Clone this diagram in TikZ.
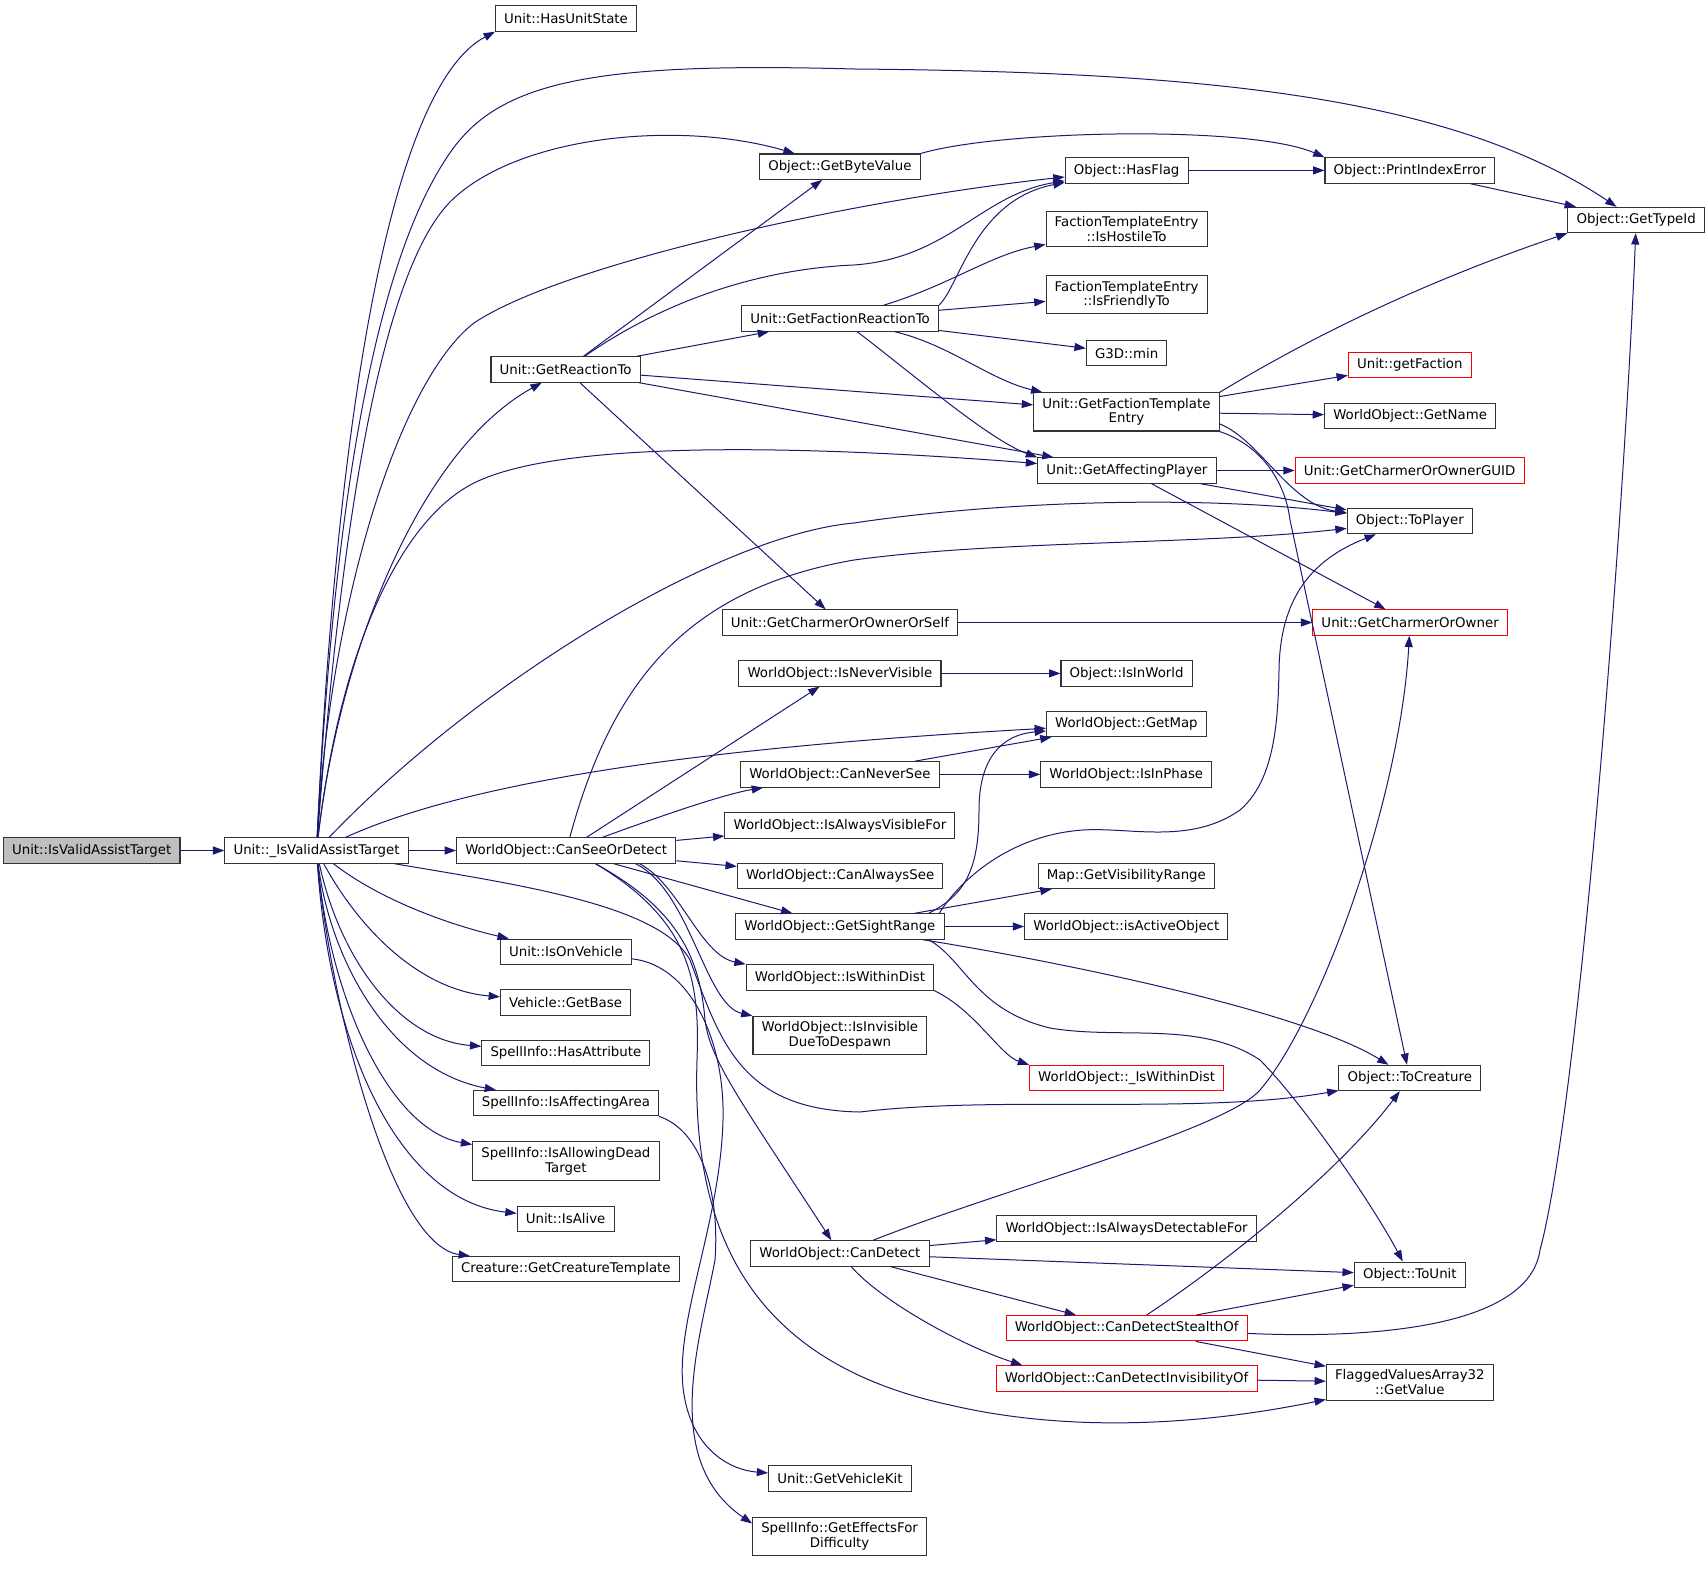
\documentclass[tikz,border=0pt]{standalone}
\usepackage{fontspec}
\setmainfont{DejaVu Sans}
\usepackage{xcolor}
\usepackage{tikz}
\usetikzlibrary{arrows.meta}
\definecolor{edgeblue}{HTML}{191970}
\definecolor{rootgray}{HTML}{BFBFBF}
\tikzset{
  fn/.style={draw=black!80, fill=white, line width=0.8pt, align=center, inner xsep=6.5pt, inner ysep=4pt, minimum height=19pt, font=\fontsize{10}{11}\selectfont},
  fnred/.style={fn, draw=red},
  fnroot/.style={fn, fill=rootgray},
  call/.style={draw=edgeblue, line width=0.75pt, -{Triangle[length=8.5pt,width=6pt]}}
}
\begin{document}
\begin{tikzpicture}[x=0.75pt, y=-0.75pt]
    \useasboundingbox (0,0) rectangle (1708,1569);

    % functions, column by column
    \node[fnroot] (assist) at (91.7,850.5) {Unit::IsValidAssistTarget};
    \node[fn] (vassist) at (316.5,850.5) {Unit::\_IsValidAssistTarget};

    \node[fn] (hasstate) at (566,18.5) {Unit::HasUnitState};
    \node[fn] (getreaction) at (565.6,369.5) {Unit::GetReactionTo};
    \node[fn] (seeordetect) at (566.2,850.5) {WorldObject::CanSeeOrDetect};
    \node[fn] (isonveh) at (565.9,951.8) {Unit::IsOnVehicle};
    \node[fn] (getbase) at (565.6,1002.5) {Vehicle::GetBase};
    \node[fn] (hasattr) at (565.9,1052.8) {SpellInfo::HasAttribute};
    \node[fn] (affarea) at (565.9,1103.2) {SpellInfo::IsAffectingArea};
    \node[fn] (allowdead) at (565.9,1161) {SpellInfo::IsAllowingDead\\Target};
    \node[fn] (isalive) at (565.6,1219) {Unit::IsAlive};
    \node[fn] (crtemplate) at (565.9,1269.2) {Creature::GetCreatureTemplate};

    \node[fn] (getbyte) at (839.9,166.7) {Object::GetByteValue};
    \node[fn] (facreaction) at (840.1,318.5) {Unit::GetFactionReactionTo};
    \node[fn] (charmself) at (839.9,622.5) {Unit::GetCharmerOrOwnerOrSelf};
    \node[fn] (nevervis) at (839.9,673.4) {WorldObject::IsNeverVisible};
    \node[fn] (neversee) at (839.9,774.4) {WorldObject::CanNeverSee};
    \node[fn] (alwaysvis) at (839.9,825.4) {WorldObject::IsAlwaysVisibleFor};
    \node[fn] (alwayssee) at (840.1,876) {WorldObject::CanAlwaysSee};
    \node[fn] (sightrange) at (839.9,926.5) {WorldObject::GetSightRange};
    \node[fn] (withindist) at (839.9,977.4) {WorldObject::IsWithinDist};
    \node[fn] (despawn) at (839.9,1035.5) {WorldObject::IsInvisible\\DueToDespawn};
    \node[fn] (candetect) at (839.9,1253.4) {WorldObject::CanDetect};
    \node[fn] (vehkit) at (839.9,1478.5) {Unit::GetVehicleKit};
    \node[fn] (effects) at (839.6,1536.5) {SpellInfo::GetEffectsFor\\Difficulty};

    \node[fn] (hasflag) at (1126.6,170.4) {Object::HasFlag};
    \node[fn] (hostile) at (1126.6,229) {FactionTemplateEntry\\::IsHostileTo};
    \node[fn] (friendly) at (1126.6,294.7) {FactionTemplateEntry\\::IsFriendlyTo};
    \node[fn] (gmin) at (1126.6,353.2) {G3D::min};
    \node[fn] (factemplate) at (1126.4,411.9) {Unit::GetFactionTemplate\\Entry};
    \node[fn] (affplayer) at (1126.9,470.5) {Unit::GetAffectingPlayer};
    \node[fn] (inworld) at (1126.6,673.4) {Object::IsInWorld};
    \node[fn] (getmap) at (1126.4,723.9) {WorldObject::GetMap};
    \node[fn] (inphase) at (1126.3,774.4) {WorldObject::IsInPhase};
    \node[fn] (visrange) at (1126.3,875.9) {Map::GetVisibilityRange};
    \node[fn] (activeobj) at (1126.3,926.5) {WorldObject::isActiveObject};
    \node[fnred] (withindistB) at (1126.6,1078) {WorldObject::\_IsWithinDist};
    \node[fn] (detectable) at (1126.6,1228.4) {WorldObject::IsAlwaysDetectableFor};
    \node[fnred] (stealth) at (1126.6,1328.2) {WorldObject::CanDetectStealthOf};
    \node[fnred] (invis) at (1126.6,1378.4) {WorldObject::CanDetectInvisibilityOf};

    \node[fn] (printerr) at (1409.8,170.4) {Object::PrintIndexError};
    \node[fnred] (getfaction) at (1409.8,365.2) {Unit::getFaction};
    \node[fn] (getname) at (1410.1,415.9) {WorldObject::GetName};
    \node[fnred] (charmguid) at (1409.6,470.5) {Unit::GetCharmerOrOwnerGUID};
    \node[fn] (toplayer) at (1409.8,521.2) {Object::ToPlayer};
    \node[fnred] (charmowner) at (1410.1,622.5) {Unit::GetCharmerOrOwner};
    \node[fn] (tocreature) at (1409.8,1078) {Object::ToCreature};
    \node[fn] (tounit) at (1409.8,1274.7) {Object::ToUnit};
    \node[fn] (flagged) at (1409.85,1382.3) {FlaggedValuesArray32\\::GetValue};

    \node[fn] (typeid) at (1636.2,220) {Object::GetTypeId};

    % calls
    \draw[call] (assist) -- (vassist);

    \draw[call] (vassist) .. controls (335,450) and (385,90) .. (hasstate.south west);
    \draw[call] (vassist) .. controls (335,480) and (380,250) .. (452,150) .. controls (502,80) and (600,62) .. (854,69) .. controls (1200,72) and (1450,95) .. (typeid);
    \draw[call] (vassist) .. controls (345,470) and (390,260) .. (452,200) .. controls (520,135) and (680,120) .. (getbyte);
    \draw[call] (vassist) .. controls (330,600) and (400,380) .. (474,323) .. controls (560,265) and (850,200) .. (hasflag);
    \draw[call] (vassist) .. controls (340,650) and (420,450) .. (getreaction);
    \draw[call] (vassist) .. controls (340,650) and (400,520) .. (474,483) .. controls (560,440) and (800,445) .. (affplayer);
    \draw[call] (vassist) .. controls (480,680) and (720,535) .. (854,523) .. controls (1000,501) and (1200,495) .. (toplayer);
    \draw[call] (vassist) .. controls (450,790) and (650,750) .. (getmap);
    \draw[call] (vassist) -- (seeordetect);
    \draw[call] (vassist) .. controls (520,885) and (660,905) .. (690,960) .. controls (720,1040) and (740,1110) .. (860,1112) .. controls (1000,1095) and (1200,1115) .. (tocreature);
    \draw[call] (vassist) .. controls (380,900) and (450,925) .. (isonveh);
    \draw[call] (vassist) .. controls (360,930) and (420,990) .. (getbase);
    \draw[call] (vassist) .. controls (340,960) and (400,1040) .. (hasattr);
    \draw[call] (vassist) .. controls (330,960) and (390,1070) .. (affarea);
    \draw[call] (vassist) .. controls (330,1000) and (390,1130) .. (allowdead);
    \draw[call] (vassist) .. controls (330,1050) and (400,1200) .. (isalive);
    \draw[call] (vassist) .. controls (330,1000) and (390,1245) .. (crtemplate);

    \draw[call] (getreaction) -- (getbyte);
    \draw[call] (getreaction) .. controls (680,290) and (780,268) .. (854,265) .. controls (950,258) and (980,195) .. (hasflag);
    \draw[call] (getreaction) -- (facreaction);
    \draw[call] (getreaction) -- (factemplate);
    \draw[call] (getreaction) -- (affplayer);
    \draw[call] (getreaction) -- (charmself);

    \draw[call] (facreaction.north east) .. controls (960,285) and (975,200) .. (hasflag);
    \draw[call] (facreaction) .. controls (950,285) and (990,255) .. (hostile);
    \draw[call] (facreaction) -- (friendly);
    \draw[call] (facreaction) -- (gmin);
    \draw[call] (facreaction) .. controls (950,345) and (990,380) .. (factemplate);
    \draw[call] (facreaction) .. controls (920,380) and (990,440) .. (affplayer.north west);

    \draw[call] (getbyte.north east) .. controls (1000,130) and (1250,125) .. (printerr.north west);
    \draw[call] (hasflag) -- (printerr);
    \draw[call] (printerr) -- (typeid);

    \draw[call] (factemplate.north east) .. controls (1290,350) and (1400,290) .. (typeid.south west);
    \draw[call] (factemplate) -- (getfaction);
    \draw[call] (factemplate) -- (getname);
    \draw[call] ([yshift=-9pt]factemplate.east) .. controls (1260,440) and (1290,505) .. (toplayer);
    \draw[call] (factemplate.south east) .. controls (1260,445) and (1285,480) .. (1290,520) -- (tocreature);

    \draw[call] (affplayer) -- (charmguid);
    \draw[call] (affplayer) -- (toplayer);
    \draw[call] (affplayer) -- (charmowner);
    \draw[call] (charmself) -- (charmowner);

    \draw[call] (seeordetect) .. controls (610,690) and (680,590) .. (854,560) .. controls (1000,540) and (1200,545) .. (toplayer);
    \draw[call] (seeordetect) -- (nevervis);
    \draw[call] (seeordetect) .. controls (650,820) and (720,795) .. (neversee);
    \draw[call] (seeordetect) -- (alwaysvis);
    \draw[call] (seeordetect) -- (alwayssee);
    \draw[call] (seeordetect) -- (sightrange);
    \draw[call] ([xshift=55pt]seeordetect.south) .. controls (680,885) and (700,955) .. (withindist.north west);
    \draw[call] ([xshift=52pt]seeordetect.south) .. controls (690,890) and (705,1005) .. (despawn.north west);
    \draw[call] ([xshift=22pt]seeordetect.south) .. controls (680,910) and (700,960) .. (705,1020) .. controls (710,1060) and (740,1100) .. (candetect);
    \draw[call] ([xshift=22pt]seeordetect.south) .. controls (690,920) and (700,980) .. (697,1060) .. controls (692,1220) and (740,1360) .. (950,1405) .. controls (1100,1440) and (1250,1415) .. (flagged);

    \draw[call] (nevervis) -- (inworld);
    \draw[call] (neversee) -- (getmap);
    \draw[call] (neversee) -- (inphase);

    \draw[call] ([xshift=-12pt]sightrange.north east) .. controls (965,895) and (979,870) .. (979,810) .. controls (979,760) and (1000,735) .. (getmap);
    \draw[call] ([xshift=-4pt]sightrange.north east) .. controls (960,880) and (1010,835) .. (1083,830) .. controls (1130,827) and (1190,845) .. (1240,810) .. controls (1275,780) and (1278,720) .. (1279,670) .. controls (1280,600) and (1310,560) .. (toplayer);
    \draw[call] (sightrange) -- (visrange);
    \draw[call] (sightrange) -- (activeobj);
    \draw[call] (sightrange) .. controls (1050,960) and (1300,1010) .. (tocreature);
    \draw[call] ([xshift=-12pt]sightrange.south east) .. controls (965,960) and (975,1010) .. (1050,1028) .. controls (1120,1040) and (1200,1020) .. (1260,1060) .. controls (1300,1100) and (1370,1200) .. (tounit);

    \draw[call] (withindist.south east) .. controls (975,1010) and (1000,1055) .. (withindistB.north west);

    \draw[call] (candetect) .. controls (1000,1190) and (1225,1130) .. (1260,1090) .. controls (1320,1020) and (1400,800) .. (charmowner);
    \draw[call] (candetect) -- (detectable);
    \draw[call] (candetect) -- (tounit);
    \draw[call] (candetect) -- (stealth);
    \draw[call] (candetect) .. controls (880,1300) and (960,1345) .. ([xshift=20pt]invis.north west);

    \draw[call] (stealth) .. controls (1230,1260) and (1340,1170) .. (tocreature);
    \draw[call] (stealth) -- (tounit);
    \draw[call] (stealth) -- (flagged);
    \draw[call] (stealth) .. controls (1400,1340) and (1530,1320) .. (1540,1250) .. controls (1580,1100) and (1625,500) .. (typeid);
    \draw[call] (invis) -- (flagged);

    \draw[call] (isonveh) .. controls (690,965) and (725,1040) .. (723,1120) .. controls (720,1230) and (670,1330) .. (685,1400) .. controls (695,1450) and (730,1470) .. (vehkit);
    \draw[call] (affarea.south east) .. controls (700,1130) and (720,1190) .. (715,1260) .. controls (700,1340) and (660,1460) .. ([yshift=-5pt]effects.north west);
\end{tikzpicture}
\end{document}
